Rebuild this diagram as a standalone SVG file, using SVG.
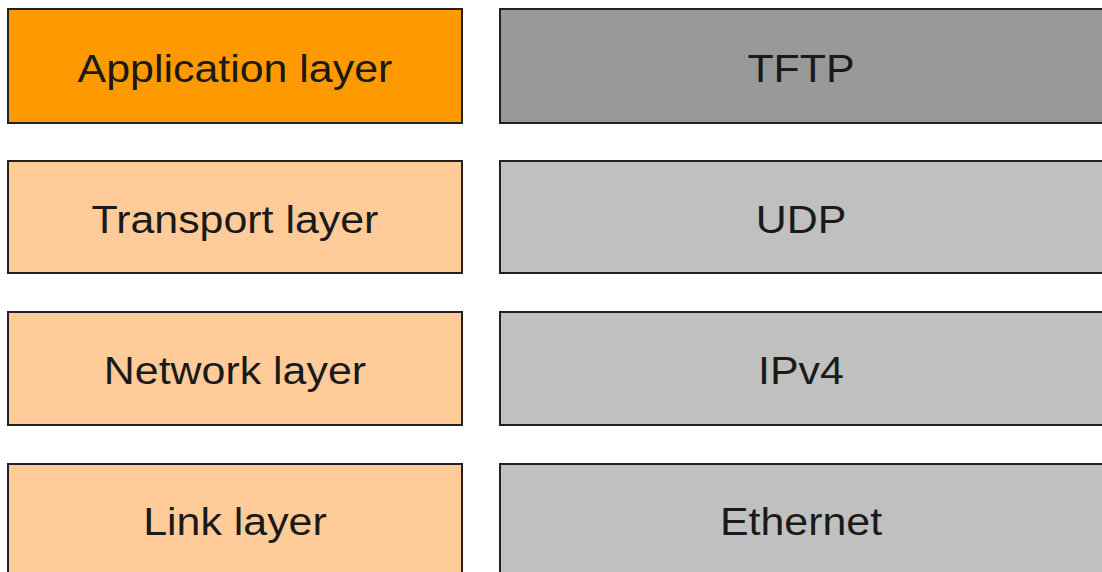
<svg xmlns="http://www.w3.org/2000/svg" width="1102" height="572" viewBox="0 0 1102 572">
<style>
rect{stroke:#222;stroke-width:2}
.app{fill:#ff9900}.lay{fill:#ffcc99}.top{fill:#999999}.pro{fill:#c0c0c0}
text{font-family:"Liberation Sans",Arial,sans-serif;font-size:39px;fill:#1a1a1a;text-anchor:middle}
</style>
<rect width="1102" height="572" fill="#ffffff" style="stroke:none"/>
<g id="application-layer"><rect class="app" x="8" y="9" width="454" height="114"/><text transform="scale(1.1,1)" x="213.6" y="82">Application layer</text></g>
<g id="tftp"><rect class="top" x="500" y="9" width="606" height="114"/><text transform="scale(1.1,1)" x="728.2" y="82">TFTP</text></g>
<g id="transport-layer"><rect class="lay" x="8" y="161" width="454" height="112"/><text transform="scale(1.1,1)" x="213.6" y="233">Transport layer</text></g>
<g id="udp"><rect class="pro" x="500" y="161" width="606" height="112"/><text transform="scale(1.1,1)" x="728.2" y="233">UDP</text></g>
<g id="network-layer"><rect class="lay" x="8" y="312" width="454" height="113"/><text transform="scale(1.1,1)" x="213.6" y="384">Network layer</text></g>
<g id="ipv4"><rect class="pro" x="500" y="312" width="606" height="113"/><text transform="scale(1.1,1)" x="728.2" y="384">IPv4</text></g>
<g id="link-layer"><rect class="lay" x="8" y="464" width="454" height="114"/><text transform="scale(1.1,1)" x="213.6" y="535">Link layer</text></g>
<g id="ethernet"><rect class="pro" x="500" y="464" width="606" height="114"/><text transform="scale(1.1,1)" x="728.2" y="535">Ethernet</text></g>
<g id="connectors"/>
</svg>
